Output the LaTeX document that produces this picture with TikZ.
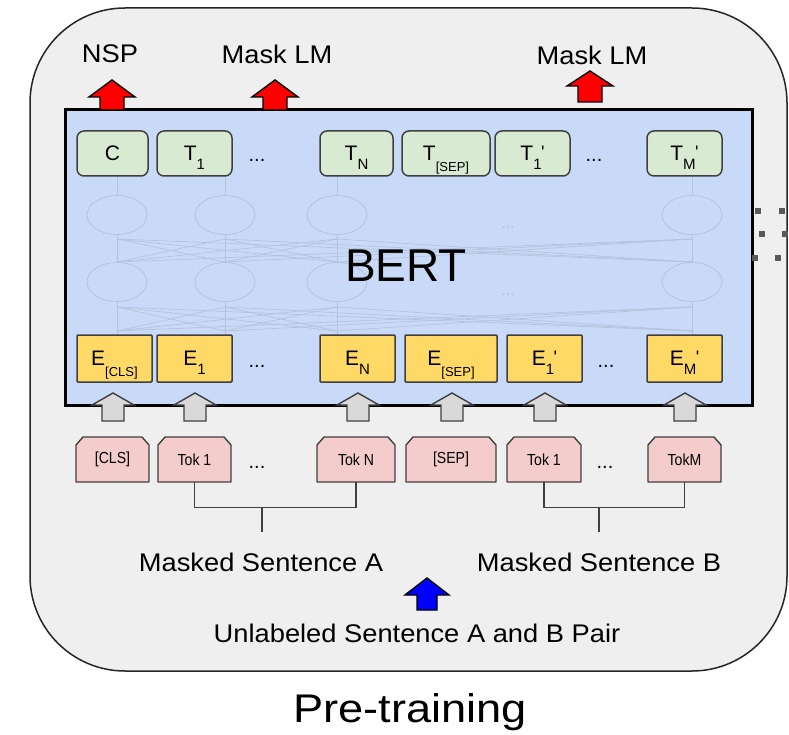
\documentclass[tikz,border=0pt]{standalone}
\usepackage{fontspec}
\setmainfont{Liberation Sans}
\usetikzlibrary{shapes.geometric,arrows.meta}
\definecolor{outerbg}{HTML}{EFEFEF}
\definecolor{bertbg}{HTML}{C9DAF8}
\definecolor{greenc}{HTML}{D9EAD3}
\definecolor{yellowc}{HTML}{FFD966}
\definecolor{pinkc}{HTML}{F4CCCC}
\definecolor{grayarr}{HTML}{D9D9D9}
\definecolor{bordc}{HTML}{404040}
\definecolor{netc}{HTML}{B4C3DC}
\definecolor{dotc}{HTML}{5A5A5A}
\newcommand\fsz[1]{\fontsize{#1}{#1}\selectfont}
% subscript of one character, and of a bracketed word
\newcommand\sbs[1]{\raisebox{-8.5pt}[0pt][0pt]{\fsz{15}#1}}
\newcommand\sbw[1]{\raisebox{-10.5pt}[0pt][0pt]{\fsz{13}#1}}
\newcommand\prm{\kern-0.5pt\raisebox{2pt}[0pt][0pt]{\fsz{18}\textquotesingle}}
\newcommand\narrow[1]{\scalebox{0.88}[1]{#1}}
\newcommand\wide[1]{\scalebox{1.07}[1]{#1}}
% block arrow: color, cx, top, head base, bottom, half head, half shaft, border
\newcommand\blockarrow[8]{%
  \filldraw[fill=#1, draw=#8, line width=1.4pt, line join=miter]
    (#2,#3) -- (#2+#6,#4) -- (#2+#7,#4) -- (#2+#7,#5) -- (#2-#7,#5)
    -- (#2-#7,#4) -- (#2-#6,#4) -- cycle;}
% token box: name, cx, width, text
\newcommand\tokbox[4]{%
  \filldraw[fill=pinkc, draw=bordc, line width=1.4pt, line join=round]
    (#2-#3/2,482) -- (#2-#3/2,445) -- (#2-#3/2+7,437) -- (#2+#3/2-7,437)
    -- (#2+#3/2,445) -- (#2+#3/2,482) -- cycle;
  \node[inner sep=0pt, minimum width=#3, minimum height=45, font=\fsz{16}] (#1) at (#2,459.5) {\narrow{#4}};}
\tikzset{
  tbox/.style={draw=bordc, fill=greenc, rounded corners=7pt, line width=1.5pt,
    minimum height=45, inner sep=0pt, font=\fsz{21}},
  ebox/.style={draw=bordc, fill=yellowc, rounded corners=1pt, line width=1.5pt,
    minimum height=47, inner sep=0pt, font=\fsz{21}},
  netell/.style={ellipse, draw=netc, line width=0.8pt, minimum width=60, minimum height=39, inner sep=0pt},
  netline/.style={draw=netc, line width=0.7pt},
  lbl/.style={font=\fsz{25.5}, inner sep=0pt},
  rowdots/.style={font=\fsz{20}, inner sep=0pt},
  conn/.style={draw=bordc, line width=1.4pt},
  sq/.style={fill=dotc, draw=none, minimum size=5.5, inner sep=0pt},
}
\begin{document}
\begin{tikzpicture}[x=1pt,y=-1pt]
\useasboundingbox (0,0) rectangle (789,735);
% outer frame
\node[draw=black!85, fill=outerbg, line width=1.5pt, rounded corners=95pt,
  minimum width=757, minimum height=663, inner sep=0pt] (frame) at (408.5,339.5) {};
% BERT box
\node[draw=black, fill=bertbg, line width=3pt, minimum width=687, minimum height=295,
  inner sep=0pt] (bert) at (408.5,257.5) {};
% faint network
\foreach \c [count=\i] in {117,225,337,692}{
  \node[netell] (u\i) at (\c,215) {};
  \node[netell] (l\i) at (\c,282) {};
  \draw[netline] (\c,335) -- (l\i.south);
  \draw[netline] (l\i.north) -- (u\i.south);
  \draw[netline] (u\i.north) -- (\c,175);
  \foreach \d in {117,225,337,692}{
    \draw[netline] (\d,331) -- (\c,307);
    \draw[netline] (\d,262) -- (\c,239);
  }
}
\node[font=\fsz{16}, text=netc, inner sep=0pt] (nd1) at (508,228) {...};
\node[font=\fsz{16}, text=netc, inner sep=0pt] (nd2) at (508,295) {...};
\node[font=\fsz{46}, inner sep=0pt] (berttxt) at (406,266) {BERT};
% T boxes
\node[tbox, minimum width=71] (tC) at (112.5,153.5) {C};
\node[tbox, minimum width=75] (t1) at (194.5,153.5) {T\sbs{1}};
\node[rowdots] (td1) at (257,160) {...};
\node[tbox, minimum width=73] (tN) at (356.5,153.5) {T\sbs{N}};
\node[tbox, minimum width=88] (tS) at (446,153.5) {T\sbw{[SEP]}};
\node[tbox, minimum width=75] (t1b) at (532.5,153.5) {T\sbs{1}\prm};
\node[rowdots] (td2) at (594,160) {...};
\node[tbox, minimum width=75] (tM) at (684.5,153.5) {T\sbs{M}\prm};
% E boxes
\node[ebox, minimum width=75] (eC) at (114.5,358.5) {E\sbw{[CLS]}};
\node[ebox, minimum width=75] (e1) at (194.5,358.5) {E\sbs{1}};
\node[rowdots] (ed1) at (257,366) {...};
\node[ebox, minimum width=75] (eN) at (357.5,358.5) {E\sbs{N}};
\node[ebox, minimum width=92] (eS) at (451,358.5) {E\sbw{[SEP]}};
\node[ebox, minimum width=75] (e1b) at (544.5,358.5) {E\sbs{1}\prm};
\node[rowdots] (ed2) at (606,366) {...};
\node[ebox, minimum width=75] (eM) at (684.5,358.5) {E\sbs{M}\prm};
% gray arrows
\foreach \c in {113,195,358,452,545,685}{
  \blockarrow{grayarr}{\c}{393}{405}{421}{21}{11}{bordc}
}
% token boxes
\tokbox{kC}{112.5}{73}{[CLS]}
\tokbox{kA1}{194.5}{73}{Tok 1}
\node[rowdots] (kd1) at (257,467) {...};
\tokbox{kAN}{356}{78}{Tok N}
\tokbox{kS}{451}{90}{[SEP]}
\tokbox{kB1}{544}{74}{Tok 1}
\node[rowdots] (kd2) at (605,467) {...};
\tokbox{kBM}{684.5}{73}{TokM}
% brackets
\draw[conn] (kA1.south) -- ++(0,25) -| (kAN.south);
\coordinate (jA) at (262,507);
\coordinate (eA) at (262,532);
\draw[conn] (jA) -- (eA);
\draw[conn] (kB1.south) -- ++(0,25) -| (kBM.south);
\coordinate (jB) at (599,507);
\coordinate (eB) at (599,532);
\draw[conn] (jB) -- (eB);
% sentence labels
\node[lbl] (mA) at (261,562) {\wide{Masked Sentence A}};
\node[lbl] (mB) at (599,562) {\wide{Masked Sentence B}};
\blockarrow{blue}{427}{578}{595}{610}{22}{10}{black}
\node[lbl] (pair) at (417,633) {\wide{Unlabeled Sentence A and B Pair}};
% red arrows
\blockarrow{red}{112}{80}{97}{110}{23}{12}{black}
\blockarrow{red}{275}{80}{97}{110}{23}{12}{black}
\blockarrow{red}{590}{71}{86}{102}{23}{12}{black}
\node[lbl] (nsp) at (110,54) {\wide{NSP}};
\node[lbl] (mlm1) at (277,54) {\wide{Mask LM}};
\node[lbl] (mlm2) at (592,55) {\wide{Mask LM}};
% right dots
\node[sq] (s1) at (758,211) {};
\node[sq] (s2) at (782,211) {};
\node[sq] (s3) at (762,234) {};
\node[sq] (s4) at (785,234) {};
\node[sq] (s5) at (755,258) {};
\node[sq] (s6) at (778,258) {};
% title
\node[font=\fsz{40}, inner sep=0pt] (title) at (410,712) {\scalebox{1.13}[1]{Pre-training}};
\end{tikzpicture}
\end{document}
